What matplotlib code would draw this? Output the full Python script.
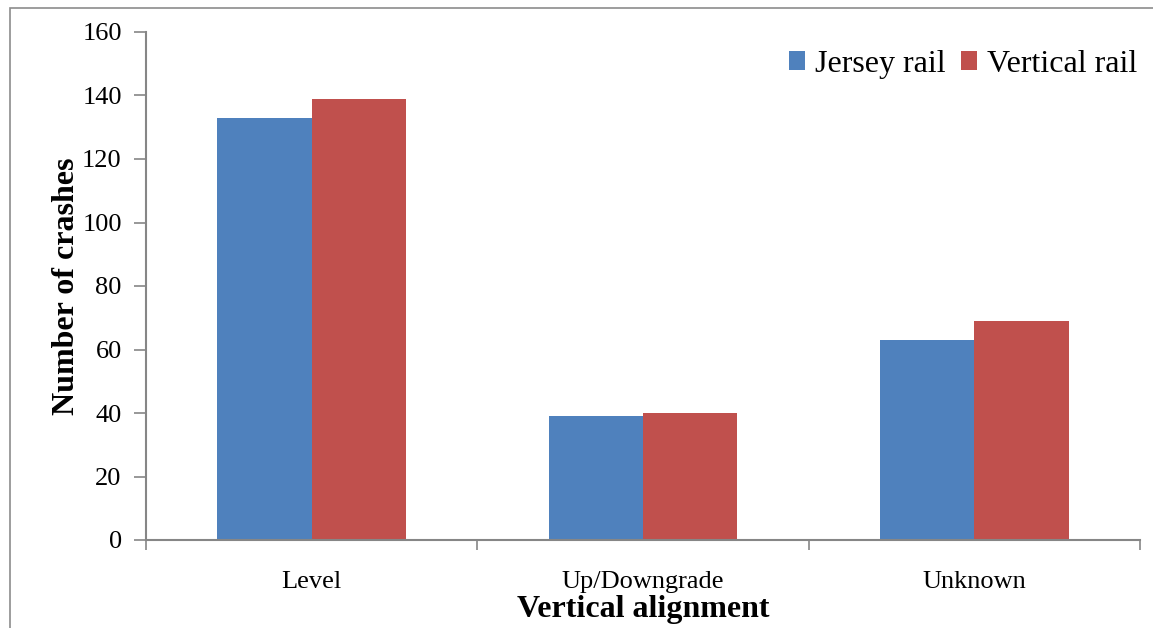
import matplotlib.pyplot as plt
import numpy as np
from matplotlib.patches import Rectangle

# Data
categories = ['Level', 'Up/Downgrade', 'Unknown']
jersey = [133, 39, 63]
vertical = [139, 40, 69]

plt.rcParams['font.family'] = ['Liberation Serif', 'DejaVu Serif']

fig = plt.figure(figsize=(11.53, 6.28), dpi=100)
ax = fig.add_axes([146 / 1153, 1 - 540 / 628, (1140 - 146) / 1153, (540 - 32) / 628])

# figure border (left and top edges visible)
fig.patches.append(Rectangle((10 / 1153, -0.1), 1.2, 1 - 8 / 628 + 0.1,
                             transform=fig.transFigure, fill=False,
                             edgecolor='#8c8c8c', linewidth=1.2))

x = np.arange(len(categories))
w = 0.285
ax.bar(x - w / 2, jersey, w, color='#4F81BD', label='Jersey rail')
ax.bar(x + w / 2, vertical, w, color='#C0504D', label='Vertical rail')

ax.set_xlim(-0.5, len(categories) - 0.5)
ax.set_ylim(0, 160)
ax.set_yticks(range(0, 161, 20))

ax.set_xticks(x)
ax.set_xticklabels(categories, fontsize=19)
ax.set_xticks(np.arange(-0.5, len(categories), 1), minor=True)
ax.tick_params(axis='x', which='major', length=0, pad=22)
ax.tick_params(axis='x', which='minor', length=7, color='#868686', width=1.2)
ax.tick_params(axis='y', length=9, color='#868686', width=1.2, labelsize=19, pad=8.5)

for side in ['top', 'right']:
    ax.spines[side].set_visible(False)
for side in ['left', 'bottom']:
    ax.spines[side].set_color('#868686')
    ax.spines[side].set_linewidth(1.5)

ax.set_ylabel('Number of crashes', fontsize=23, fontweight='bold', labelpad=0.5)
ax.set_xlabel('Vertical alignment', fontsize=23, fontweight='bold', labelpad=2)

ax.legend(loc='upper right', bbox_to_anchor=(1.01, 0.99), frameon=False, fontsize=23,
          ncol=2, handlelength=0.5, handleheight=0.5, handletextpad=0.3,
          columnspacing=0.5, borderaxespad=0)

plt.savefig('out.png', dpi=100)
